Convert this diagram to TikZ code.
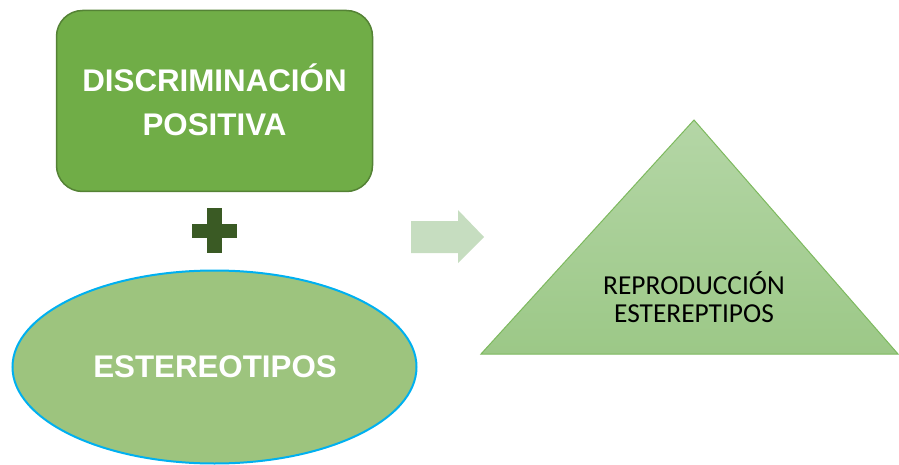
\documentclass[tikz,border=0pt]{standalone}
\usepackage{fontspec}
\setmainfont{Liberation Sans}
\newfontfamily\calib{Carlito}
\usetikzlibrary{shapes.geometric}
\definecolor{rectfill}{HTML}{70AD47}
\definecolor{rectline}{HTML}{548235}
\definecolor{ellfill}{HTML}{9DC47E}
\definecolor{ellline}{HTML}{00B0F0}
\definecolor{tritop}{HTML}{B4D6A6}
\definecolor{tribot}{HTML}{9CC887}
\definecolor{triline}{HTML}{7DB95E}
\definecolor{arrowfill}{HTML}{C6DDC0}
\definecolor{plusfill}{HTML}{3A5A24}
\tikzset{
  boldtext/.style={font=\bfseries\fontsize{31.3}{44}\selectfont, text=white, align=center},
  tritext/.style={font=\calib\fontsize{27.4}{28}\selectfont, text=black, align=center},
}
\begin{document}
\begin{tikzpicture}[x=1pt,y=-1pt]
\useasboundingbox (0,0) rectangle (899,465);
% rounded rectangle
\node[draw=rectline, line width=1.5pt, fill=rectfill, rounded corners=26pt,
      minimum width=316pt, minimum height=181pt, inner sep=0pt] (disc) at (214.5,101) {};
\node[boldtext] (disctext) at (214.5,99.5) {DISCRIMINACIÓN\\POSITIVA};
% plus sign
\fill[plusfill] (207,208) rectangle (222,253);
\fill[plusfill] (192,224) rectangle (237,238);
% ellipse
\node[ellipse, draw=ellline, line width=2pt, fill=ellfill,
      minimum width=404pt, minimum height=193pt, inner sep=0pt] (est) at (214.5,367) {};
\node[boldtext] (esttext) at (215,367) {ESTEREOTIPOS};
% arrow
\fill[arrowfill] (411,221) -- (458,221) -- (458,210) -- (484,237) -- (458,263) -- (458,253) -- (411,253) -- cycle;
% triangle
\shade[top color=tritop, bottom color=tribot] (694,120) -- (898,354) -- (481,354) -- cycle;
\draw[triline, line width=1pt, line join=miter] (694,120) -- (898,354) -- (481,354) -- cycle;
\node[tritext] (tritxt) at (694,297.5) {REPRODUCCIÓN\\ESTEREPTIPOS};
\end{tikzpicture}
\end{document}
